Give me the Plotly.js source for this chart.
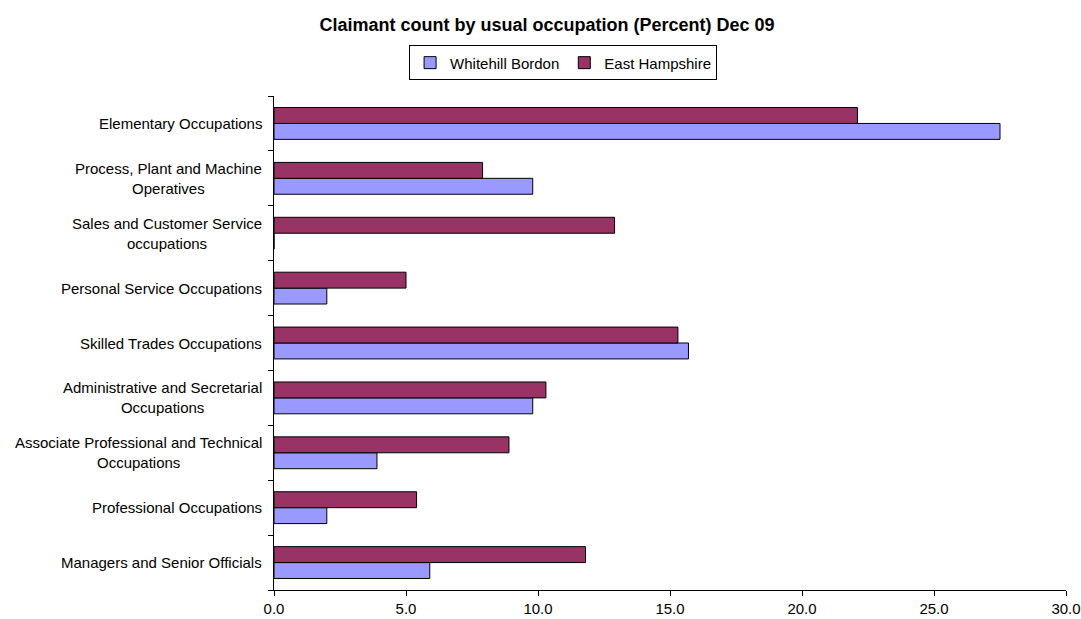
<!DOCTYPE html>
<html>
<head>
<meta charset="utf-8">
<script src="https://cdn.plot.ly/plotly-3.0.1.min.js"></script>
<style>
  html, body { margin: 0; padding: 0; background: #ffffff; }
  #chart { width: 1081px; height: 619px; }
</style>
</head>
<body>
<div id="chart"></div>
<script>
// Occupation groups, listed from the bottom of the chart to the top
const categories = [
  "Managers and Senior Officials",
  "Professional Occupations",
  "Associate Professional and Technical Occupations",
  "Administrative and Secretarial Occupations",
  "Skilled Trades Occupations",
  "Personal Service Occupations",
  "Sales and Customer Service occupations",
  "Process, Plant and Machine Operatives",
  "Elementary Occupations"
];

// Category labels as shown beside the axis (line breaks where the text wraps)
const categoryLabels = [
  "Managers and Senior Officials",
  "Professional Occupations",
  "Associate Professional and Technical<br>Occupations",
  "Administrative and Secretarial<br>Occupations",
  "Skilled Trades Occupations",
  "Personal Service Occupations",
  "Sales and Customer Service<br>occupations",
  "Process, Plant and Machine<br>Operatives",
  "Elementary Occupations"
];

// Share of claimants (%) by usual occupation, Dec 09
const whitehillBordon = [5.9, 2.0, 3.9, 9.8, 15.7, 2.0, 0.0, 9.8, 27.5];
const eastHampshire   = [11.8, 5.4, 8.9, 10.3, 15.3, 5.0, 12.9, 7.9, 22.1];

const seriesNames = ["Whitehill Bordon", "East Hampshire"];
const xTicks = [0, 5, 10, 15, 20, 25, 30];

const FONT = "Liberation Sans, Arial, Helvetica, sans-serif";

const traces = [
  {
    type: "bar",
    orientation: "h",
    name: seriesNames[0],
    y: categories,
    x: whitehillBordon,
    marker: { color: "#9999FF", line: { color: "#000000", width: 1 } },
    hoverinfo: "x+name"
  },
  {
    type: "bar",
    orientation: "h",
    name: seriesNames[1],
    y: categories,
    x: eastHampshire,
    marker: { color: "#993366", line: { color: "#000000", width: 1 } },
    hoverinfo: "x+name"
  }
];

// Axis labels for the categories, right-aligned against the axis with centred lines
const labelAnnotations = categories.map((cat, i) => ({
  xref: "paper",
  yref: "y",
  x: 0,
  y: cat,
  xanchor: "right",
  yanchor: "middle",
  xshift: -10,
  align: "center",
  showarrow: false,
  text: categoryLabels[i],
  font: { family: FONT, size: 15, color: "#000000" }
}));

const layout = {
  width: 1081,
  height: 619,
  paper_bgcolor: "#ffffff",
  plot_bgcolor: "#ffffff",
  margin: { l: 274, r: 15, t: 96, b: 29, pad: 0 },
  font: { family: FONT, size: 15, color: "#000000" },
  title: {
    text: "<b>Claimant count by usual occupation (Percent) Dec 09</b>",
    font: { family: FONT, size: 18, color: "#000000" },
    xref: "container",
    yref: "container",
    x: 547 / 1081,
    xanchor: "center",
    y: 1 - 25 / 619,
    yanchor: "middle"
  },
  barmode: "group",
  bargap: 0.42,
  bargroupgap: 0,
  showlegend: true,
  legend: {
    orientation: "h",
    x: 0.365,
    xanchor: "center",
    y: 1.067,
    yanchor: "middle",
    bgcolor: "#ffffff",
    bordercolor: "#000000",
    borderwidth: 1,
    traceorder: "normal",
    itemwidth: 30,
    font: { family: FONT, size: 15, color: "#000000" }
  },
  xaxis: {
    range: [0, 30],
    tickmode: "array",
    tickvals: xTicks,
    ticktext: xTicks.map(v => v.toFixed(1)),
    ticks: "outside",
    ticklen: 5,
    tickcolor: "#000000",
    showline: true,
    linecolor: "#000000",
    linewidth: 1,
    showgrid: false,
    zeroline: false,
    fixedrange: true,
    tickfont: { family: FONT, size: 15, color: "#000000" }
  },
  yaxis: {
    type: "category",
    categoryorder: "array",
    categoryarray: categories,
    range: [-0.5, categories.length - 0.5],
    showticklabels: false,
    ticks: "outside",
    tickson: "boundaries",
    ticklen: 5,
    tickcolor: "#000000",
    showline: true,
    linecolor: "#000000",
    linewidth: 1,
    showgrid: false,
    zeroline: false,
    fixedrange: true
  },
  annotations: labelAnnotations
};

Plotly.newPlot("chart", traces, layout, { displayModeBar: false, staticPlot: true });
</script>
</body>
</html>
